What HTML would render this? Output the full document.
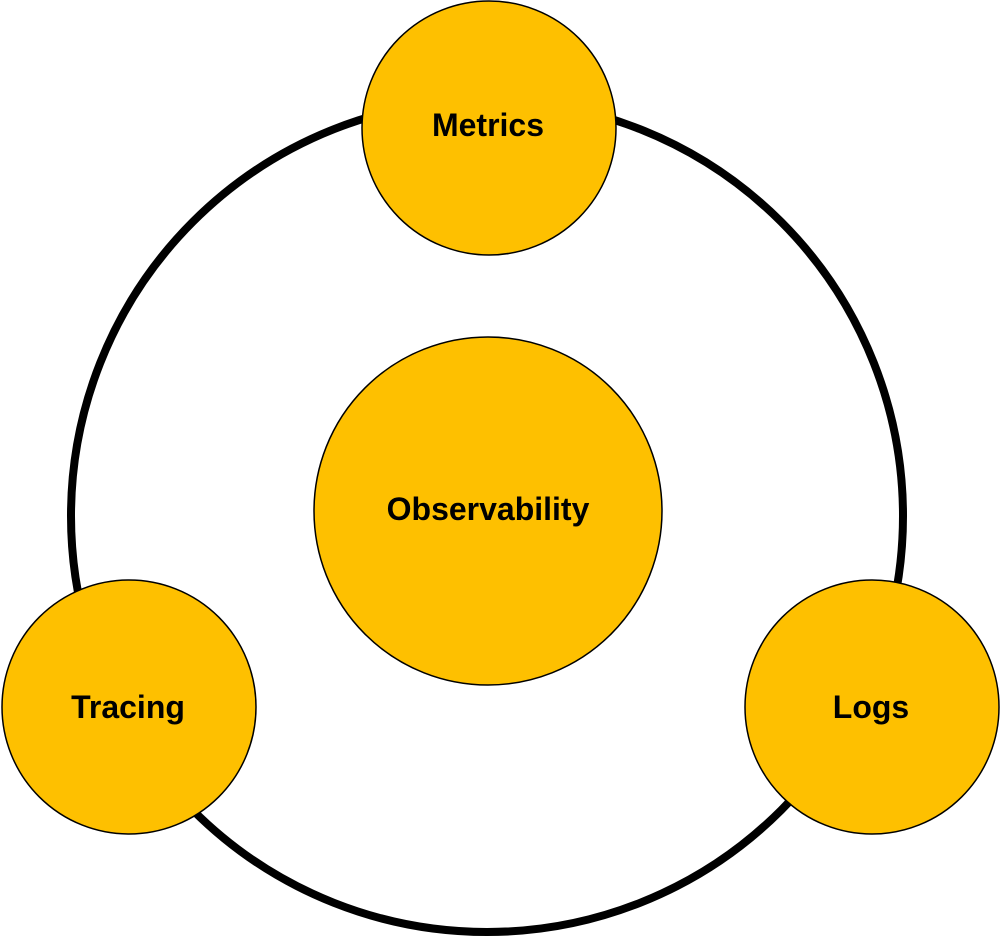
<!DOCTYPE html>
<html><head><style>html,body{margin:0;padding:0;background:#fff}</style></head>
<body>
<svg width="1001" height="936" viewBox="0 0 1001 936" xmlns="http://www.w3.org/2000/svg">
<circle cx="487" cy="516" r="416" fill="none" stroke="#000" stroke-width="8"/>
<g fill="#fec000" stroke="#000" stroke-width="1.5">
<circle cx="489" cy="128" r="127"/>
<circle cx="488" cy="511" r="174"/>
<circle cx="129" cy="707" r="127"/>
<circle cx="872" cy="707" r="127"/>
</g>
<g font-family="Liberation Sans, sans-serif" font-weight="bold" font-size="32" text-anchor="middle" fill="#000">
<text x="488" y="136">Metrics</text>
<text x="488" y="520">Observability</text>
<text x="128" y="718">Tracing</text>
<text x="871" y="718">Logs</text>
</g>
</svg>
</body></html>
